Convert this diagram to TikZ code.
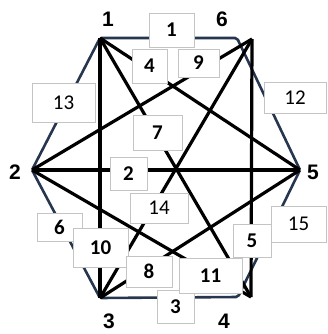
\documentclass[tikz,border=0pt]{standalone}
\usepackage{fontspec}
\setmainfont{Carlito}
\newfontfamily\vertfont{Liberation Sans}

\definecolor{hexnavy}{HTML}{26364F}
\definecolor{boxgray}{HTML}{C4C4C4}

\tikzset{
  edge/.style={line width=3.2pt, black},
  hexedge/.style={line width=2.6pt, hexnavy, rounded corners=2pt},
  lbl/.style={draw=boxgray, fill=white, line width=0.9pt, inner sep=0pt,
              font=\fontsize{21}{21}\selectfont},
  vlbl/.style={font=\vertfont\bfseries\fontsize{21}{21}\selectfont}
}

\begin{document}
\begin{tikzpicture}[x=1pt, y=-1pt]

\useasboundingbox (0,0) rectangle (327,334);

% The six vertices
\coordinate (v1) at (100,38);
\coordinate (v6) at (252,39);
\coordinate (v2) at (32,170);
\coordinate (v5) at (300,170);
\coordinate (v3) at (100,298);
\coordinate (v4) at (251,297);

% Hexagon outline turns a little inside of 6 and 4
\coordinate (h6) at (237,38);
\coordinate (h4) at (238,297);
\draw[hexedge] (v1) -- (h6) -- (v5) -- (h4) -- (v3) -- (v2) -- cycle;

% Chords of the hexagon
\draw[edge] (v1) -- (v3);
\draw[edge] (v1) -- (v4);
\draw[edge] (v1) -- (v5);
\draw[edge] (v2) -- (v4);
\draw[edge] (v2) -- (v5);
\draw[edge] (v2) -- (v6);
\draw[edge] (v3) -- (v5);
\draw[edge] (v3) -- (v6);
\draw[edge] (v6) -- (v4);

% Edge numbers in boxes
\node[lbl, minimum width=63pt, minimum height=39pt] (e13) at (63.5,102.5) {13};
\node[lbl, minimum width=62pt, minimum height=31pt] (e12) at (295,97.5) {12};
\node[lbl, minimum width=45pt, minimum height=34pt] (e1) at (171.5,30) {\bfseries 1};
\node[lbl, minimum width=35pt, minimum height=34pt] (e4) at (149.5,66) {\bfseries 4};
\node[lbl, minimum width=41pt, minimum height=28pt] (e9) at (198.5,63) {\bfseries 9};
\node[lbl, minimum width=49pt, minimum height=35pt] (e7) at (157.5,132.5) {\bfseries 7};
\node[lbl, minimum width=37pt, minimum height=33pt] (e2) at (128.5,173.5) {\bfseries 2};
\node[lbl, minimum width=58pt, minimum height=30pt] (e14) at (159,208) {14};
\node[lbl, minimum width=45pt, minimum height=28pt] (e6) at (59.5,227) {\bfseries 6};
\node[lbl, minimum width=55pt, minimum height=39pt] (e10) at (100.5,247.5) {\bfseries 10};
\node[lbl, minimum width=55pt, minimum height=36pt] (e15) at (298.5,224) {15};
\node[lbl, minimum width=38pt, minimum height=33pt] (e5) at (252,240.5) {\bfseries 5};
\node[lbl, minimum width=46pt, minimum height=31pt] (e8) at (149,271.5) {\bfseries 8};
\node[lbl, minimum width=37pt, minimum height=33pt] (e3) at (175.5,306.5) {\bfseries 3};
\node[lbl, minimum width=63pt, minimum height=35pt] (e11) at (210.5,275.5) {\bfseries 11};

% Vertex names
\node[vlbl] (n1) at (108,19) {1};
\node[vlbl] (n6) at (222,19) {6};
\node[vlbl] (n2) at (15,172) {2};
\node[vlbl] (n5) at (313,172) {5};
\node[vlbl] (n3) at (109,321) {3};
\node[vlbl] (n4) at (224,321) {4};

\end{tikzpicture}
\end{document}
